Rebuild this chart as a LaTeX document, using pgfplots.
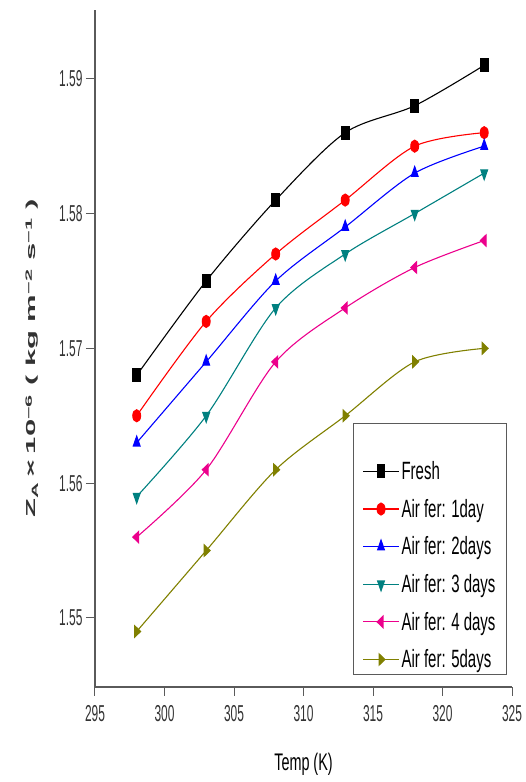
\documentclass[border=0pt]{standalone}
\usepackage{graphicx}
\usepackage{pgfplots}
\pgfplotsset{compat=1.18}
\usepackage{fontspec}
\setmainfont{Liberation Sans}
\newfontfamily\narrow[FakeStretch=0.52]{Liberation Sans}
\newfontfamily\legfont[FakeStretch=0.6]{Liberation Sans}
\definecolor{cteal}{RGB}{0,128,128}
\definecolor{colive}{RGB}{128,128,0}
\definecolor{axgray}{RGB}{90,90,90}
\newcommand{\ls}{\rule[-6pt]{0pt}{20pt}}
\begin{document}
\begin{tikzpicture}
\useasboundingbox (-95pt,-95pt) rectangle (430pt,687pt);
\begin{axis}[
  scale only axis,
  width=417pt, height=677pt,
  xmin=295, xmax=325, ymin=1.54488, ymax=1.5951,
  axis x line*=bottom, axis y line*=left,
  axis line style={-, axgray, line width=1.4pt},
  xtick={295,300,...,325},
  ytick={1.55,1.56,1.57,1.58,1.59},
  yticklabel style={/pgf/number format/.cd,fixed,precision=2,fixed zerofill=false},
  xticklabel style={yshift=-6pt},
  /pgf/number format/assume math mode=true,
  ticklabel style={font=\narrow\fontsize{23}{25}\selectfont, text=black!80},
  x tick style={axgray, line width=1pt},
  y tick style={axgray, line width=1pt},
  major tick length=9pt,
  xtick align=outside, ytick align=outside,
  xlabel={\legfont\fontsize{24}{26}\selectfont Temp (K)},
  ylabel={\scalebox{1}[0.42]{\bfseries\fontsize{31}{33}\selectfont Z\textsubscript{A}\,×\,10\textsuperscript{−6} ( kg m\textsuperscript{−2} s\textsuperscript{−1} )}},
  xlabel style={yshift=-24pt},
  ylabel style={yshift=14pt, xshift=-10pt, text=black!80},
  legend style={at={(0.988,0.018)}, anchor=south east, draw=axgray, line width=1pt,
    font=\legfont\fontsize{25}{26}\selectfont, row sep=14pt, inner xsep=9pt, inner ysep=3pt},
  legend cell align=left,
  legend image code/.code={\draw[#1] (0pt,0pt) -- (36pt,0pt); \draw[#1, only marks] plot coordinates {(18pt,0pt)};},
  every axis plot/.append style={smooth, line width=1.1pt},
]
\addlegendimage{empty legend}
\addlegendentry{\rule{0pt}{14pt}}
\addplot[black, mark=square*, mark options={xscale=0.6}, mark size=6.5pt] coordinates {(298,1.568)(303,1.575)(308,1.581)(313,1.586)(318,1.588)(323,1.591)};
\addlegendentry{\ls Fresh}
\addplot[red, mark=*, mark options={xscale=0.65, fill=red}, mark size=6pt] coordinates {(298,1.565)(303,1.572)(308,1.577)(313,1.581)(318,1.585)(323,1.586)};
\addlegendentry{\ls Air fer: 1day}
\addplot[blue, mark=triangle*, mark options={xscale=0.6}, mark size=6.5pt] coordinates {(298,1.563)(303,1.569)(308,1.575)(313,1.579)(318,1.583)(323,1.585)};
\addlegendentry{\ls Air fer: 2days}
\addplot[cteal, mark=triangle*, mark options={xscale=0.6, rotate=180}, mark size=6.5pt] coordinates {(298,1.559)(303,1.565)(308,1.573)(313,1.577)(318,1.580)(323,1.583)};
\addlegendentry{\ls Air fer: 3 days}
\addplot[magenta, mark=triangle*, mark options={xscale=0.6, rotate=90}, mark size=6.5pt] coordinates {(298,1.556)(303,1.561)(308,1.569)(313,1.573)(318,1.576)(323,1.578)};
\addlegendentry{\ls Air fer: 4 days}
\addplot[colive, mark=triangle*, mark options={xscale=0.6, rotate=-90}, mark size=6.5pt] coordinates {(298,1.549)(303,1.555)(308,1.561)(313,1.565)(318,1.569)(323,1.570)};
\addlegendentry{\ls Air fer: 5days}
\end{axis}
\end{tikzpicture}
\end{document}
